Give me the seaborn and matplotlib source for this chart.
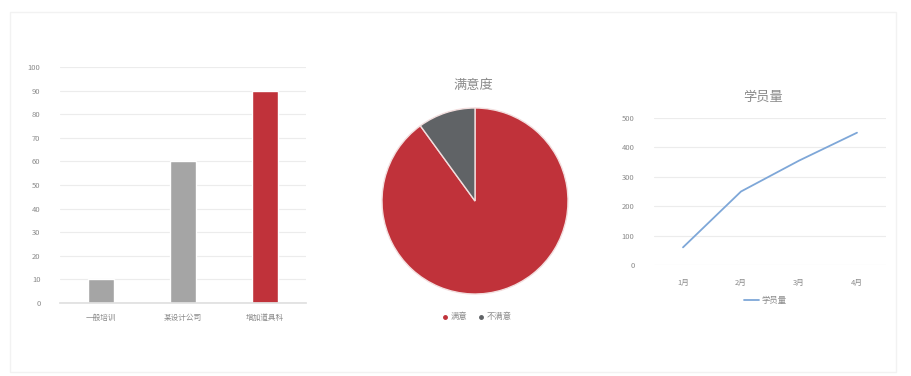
import matplotlib
matplotlib.use("Agg")
import matplotlib.pyplot as plt
import seaborn as sns
import pandas as pd
from matplotlib.patches import Rectangle

# data
bar_cats = ["一般培训", "某设计公司", "增加道具科"]
bar_vals = [10, 60, 90]
pie_labels = ["满意", "不满意"]
pie_vals = [90, 10]
months = ["1月", "2月", "3月", "4月"]
students = [60, 250, 355, 450]

sns.set_theme(style="white")
plt.rcParams["font.family"] = ["Noto Sans CJK SC", "DejaVu Sans"]

TXT = "#8a8a8a"
RED = "#c0323a"
GRAY = "#a5a5a5"
DARK = "#606366"
GRID = "#ececec"

W, H = 912, 376
fig = plt.figure(figsize=(W / 100, H / 100), dpi=100)
fig.patch.set_facecolor("white")


def box(x0, y_top, x1, y_bot):
    return [x0 / W, 1 - y_bot / H, (x1 - x0) / W, (y_bot - y_top) / H]


# faint outer frame
fig.add_artist(Rectangle((10 / W, 4 / H), 886 / W, (H - 16) / H, transform=fig.transFigure,
                         fill=False, edgecolor="#f2f2f2", linewidth=1))

# ---------------- bar chart ----------------
ax1 = fig.add_axes(box(60, 67, 306, 303))
bar_df = pd.DataFrame({"cat": bar_cats, "val": bar_vals})
sns.barplot(data=bar_df, x="cat", y="val", hue="cat", palette=[GRAY, GRAY, RED],
            width=0.32, saturation=1, legend=False, ax=ax1)
ax1.set_ylim(0, 100)
ax1.set_yticks(range(0, 101, 10))
ax1.set_xlabel("")
ax1.set_ylabel("")
ax1.yaxis.grid(True, color=GRID, linewidth=0.8)
ax1.set_axisbelow(True)
for s in ax1.spines.values():
    s.set_visible(False)
ax1.spines["bottom"].set_visible(True)
ax1.spines["bottom"].set_color("#e0e0e0")
ax1.tick_params(axis="both", length=0, labelsize=5.5, labelcolor=TXT)
ax1.tick_params(axis="y", pad=14)
ax1.tick_params(axis="x", pad=8)

# ---------------- pie chart ----------------
ax2 = fig.add_axes(box(382, 108, 568, 294))
ax2.pie(pie_vals, colors=[RED, DARK], startangle=90, counterclock=False,
        wedgeprops={"edgecolor": "#f3dede", "linewidth": 1})
ax2.set_xlim(-1, 1)
ax2.set_ylim(-1, 1)
ax2.set_aspect("equal")
fig.text(473 / W, 1 - 85 / H, "满意度", ha="center", va="center", fontsize=9.5, color=TXT)
handles = [plt.Line2D([], [], marker="o", linestyle="", markersize=2.5, color=c) for c in [RED, DARK]]
fig.legend(handles, pie_labels, loc="center", bbox_to_anchor=(477 / W, 1 - 317 / H), ncol=2,
           frameon=False, fontsize=6, labelcolor=TXT, handlelength=0.6, handletextpad=0.3,
           columnspacing=1.4)

# ---------------- line chart ----------------
ax3 = fig.add_axes(box(654, 118, 886, 265))
line_df = pd.DataFrame({"month": months, "n": students})
sns.lineplot(data=line_df, x="month", y="n", color="#7ea7d8", linewidth=1.3, ax=ax3, sort=False)
ax3.set_xlim(-0.5, 3.5)
ax3.set_ylim(0, 500)
ax3.set_yticks(range(0, 501, 100))
ax3.set_xlabel("")
ax3.set_ylabel("")
ax3.yaxis.grid(True, color=GRID, linewidth=0.8)
ax3.set_axisbelow(True)
for s in ax3.spines.values():
    s.set_visible(False)
ax3.tick_params(axis="both", length=0, labelsize=5.5, labelcolor=TXT)
ax3.tick_params(axis="y", pad=14)
ax3.tick_params(axis="x", pad=10)
fig.text(763 / W, 1 - 97 / H, "学员量", ha="center", va="center", fontsize=9.5, color=TXT)
lh = [plt.Line2D([], [], color="#7ea7d8", linewidth=1.3)]
fig.legend(lh, ["学员量"], loc="center", bbox_to_anchor=(765 / W, 1 - 300 / H),
           frameon=False, fontsize=6, labelcolor=TXT, handlelength=1.8, handletextpad=0.3)

fig.savefig("out.png", dpi=100)
